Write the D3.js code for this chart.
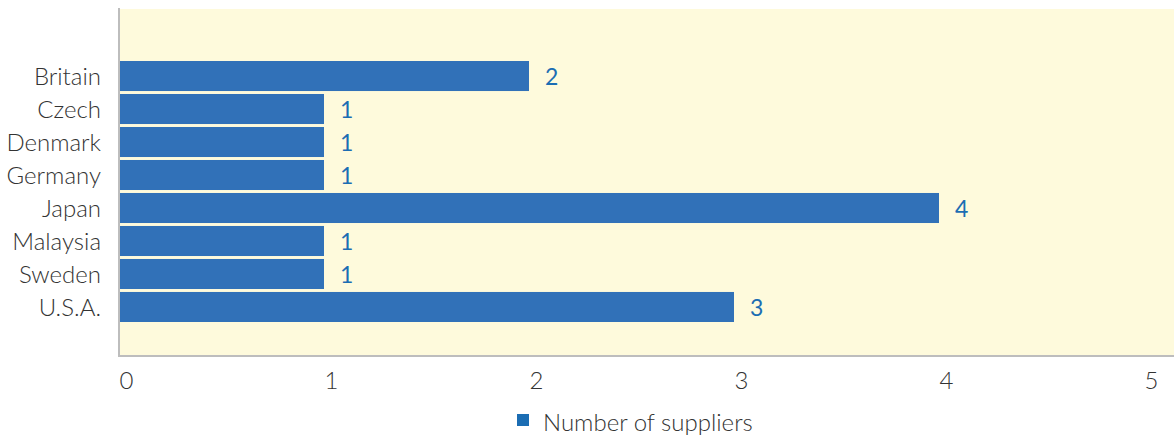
<!DOCTYPE html>
<html><head><meta charset="utf-8">
<script src="https://cdn.jsdelivr.net/npm/d3@7"></script>
<style>body{margin:0;background:#fff}svg{display:block}</style>
</head><body>
<svg id="c" width="1174" height="437"></svg>
<script>
const categories = ["Britain","Czech","Denmark","Germany","Japan","Malaysia","Sweden","U.S.A."];
const suppliers = [2,1,1,1,4,1,1,3];
const xTicks = [0,1,2,3,4,5];
const seriesName = "Number of suppliers";

const svg = d3.select("#c");
const font = "Lato, 'Open Sans', sans-serif";
const x = d3.scaleLinear().domain([0,5]).range([119,1144]);
const y = d3.scaleBand().domain(categories).range([61,322]).paddingInner(0.09).paddingOuter(0);

svg.append("rect").attr("x",119).attr("y",9).attr("width",1174-119).attr("height",346).attr("fill","#FEFADC");

svg.selectAll("rect.bar").data(categories).enter().append("rect")
  .attr("class","bar")
  .attr("x",x(0)).attr("y",d=>y(d))
  .attr("width",(d,i)=>x(suppliers[i])-x(0))
  .attr("height",y.bandwidth())
  .attr("fill","#3171B8");

svg.selectAll("text.val").data(categories).enter().append("text")
  .attr("x",(d,i)=>x(suppliers[i])+16)
  .attr("y",d=>y(d)+y.bandwidth()/2+9)
  .attr("fill","#1B6DB3").attr("font-family",font).attr("font-size",23)
  .text((d,i)=>suppliers[i]);

// axes lines
svg.append("line").attr("x1",119).attr("x2",119).attr("y1",8).attr("y2",356).attr("stroke","#BDBDBD").attr("stroke-width",2);
svg.append("line").attr("x1",118).attr("x2",1174).attr("y1",356).attr("y2",356).attr("stroke","#BDBDBD").attr("stroke-width",2);

// category labels
const yAxis = svg.append("g").attr("transform","translate(101,0)")
  .call(d3.axisLeft(y).tickSize(0).tickPadding(0));
yAxis.select(".domain").remove();
yAxis.selectAll("text").attr("font-family",font).attr("font-weight",300).attr("font-size",24).attr("fill","#333").attr("dy","0.36em");

// x tick labels
const xAxis = svg.append("g").attr("transform","translate(0,389)")
  .call(d3.axisBottom(x).tickValues(xTicks).tickFormat(d3.format("d")).tickSize(0).tickPadding(0));
xAxis.select(".domain").remove();
xAxis.selectAll("text").attr("font-family",font).attr("font-weight",300).attr("font-size",24).attr("fill","#333").attr("text-anchor","start").attr("dy",0);

// legend
svg.append("rect").attr("x",517).attr("y",414).attr("width",12).attr("height",12).attr("fill","#1B6DB3");
svg.append("text").attr("x",543).attr("y",431).attr("font-family",font).attr("font-weight",300).attr("font-size",24).attr("fill","#333").text(seriesName);
</script>
</body></html>
